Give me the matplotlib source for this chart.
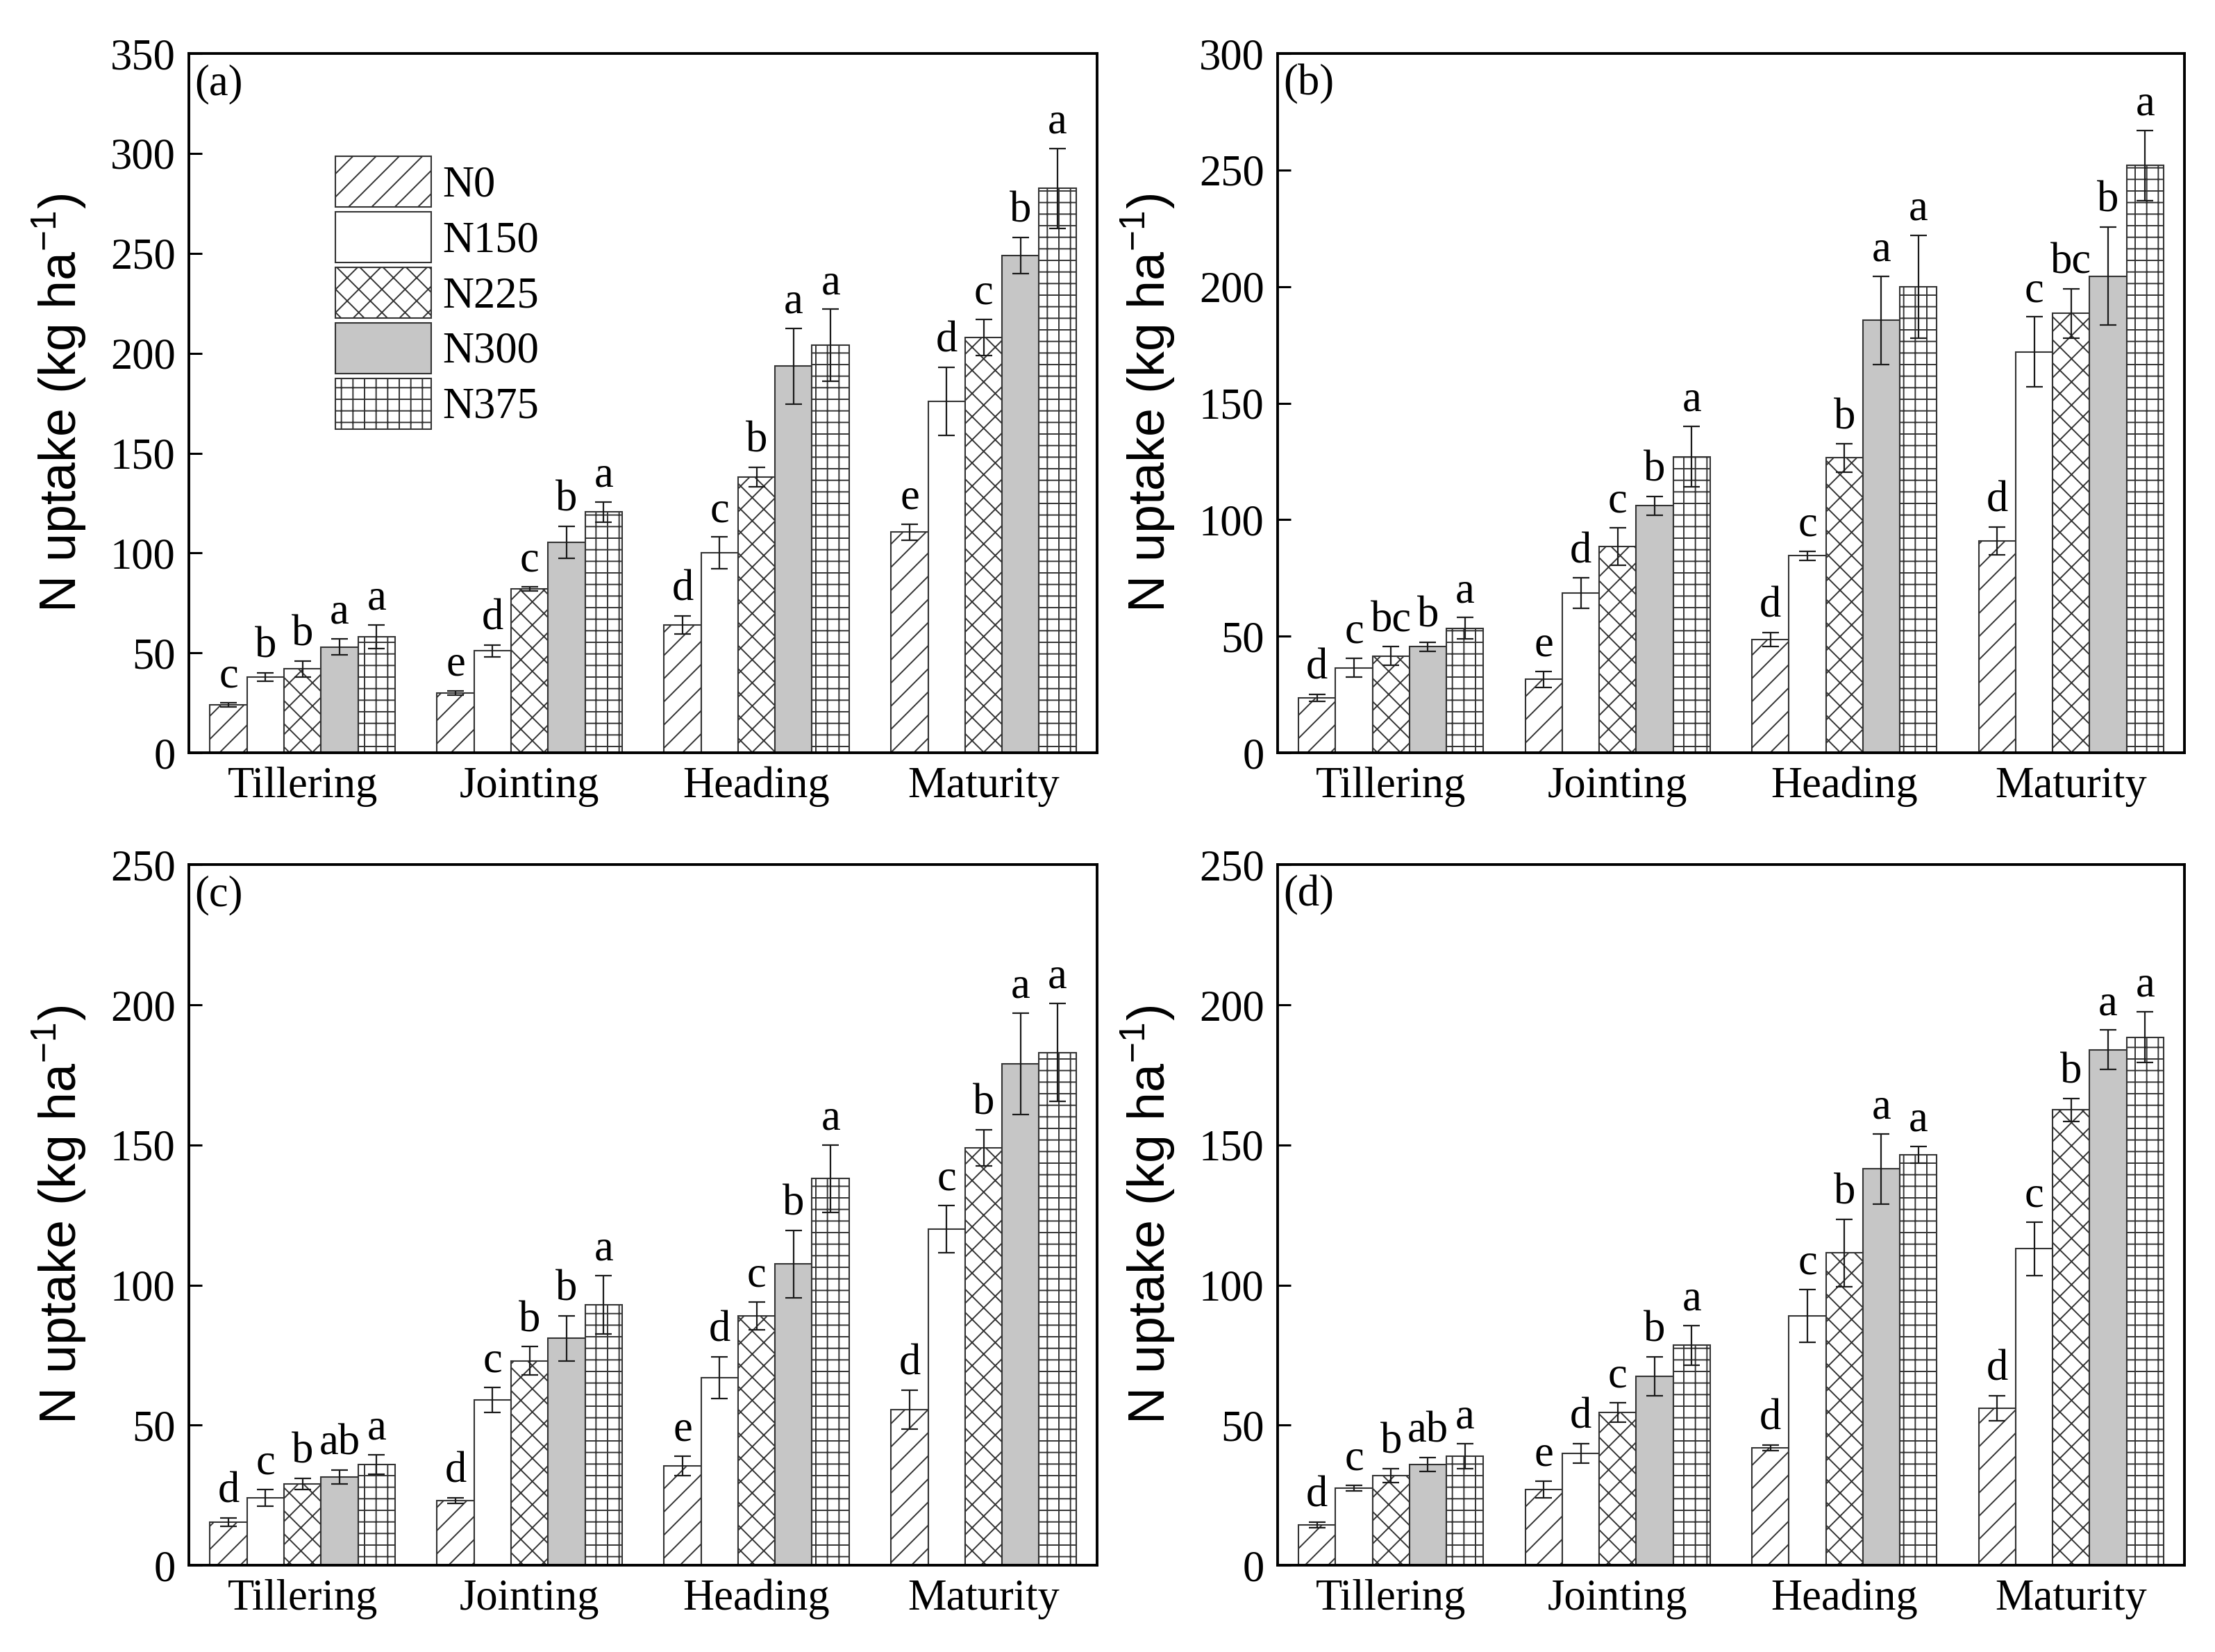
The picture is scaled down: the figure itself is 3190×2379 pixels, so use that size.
import numpy as np
import matplotlib
matplotlib.use('Agg')
import matplotlib.pyplot as plt

plt.rcParams['font.family'] = ['Liberation Serif', 'DejaVu Serif']
plt.rcParams['mathtext.fontset'] = 'custom'
plt.rcParams['mathtext.rm'] = 'Liberation Sans'
plt.rcParams['hatch.linewidth'] = 1.4

stages = ['Tillering', 'Jointing', 'Heading', 'Maturity']
treatments = ['N0', 'N150', 'N225', 'N300', 'N375']

# rows = treatments (N0..N375), columns = stages
a_mean = [[24, 30, 64, 110.5],
          [38, 51, 100, 176],
          [42, 82, 138, 208],
          [53, 105.5, 193.5, 249],
          [58, 120.5, 204, 282.5]]
a_err = [[1, 1, 4.5, 4],
         [2, 3, 8, 17],
         [4, 1, 5, 9],
         [4, 8, 19, 9],
         [6, 5, 18, 20]]
a_letters = [['c', 'e', 'd', 'e'],
             ['b', 'd', 'c', 'd'],
             ['b', 'c', 'b', 'c'],
             ['a', 'b', 'a', 'b'],
             ['a', 'a', 'a', 'a']]

b_mean = [[23.5, 31.5, 48.5, 91],
          [36.5, 68.5, 84.5, 172],
          [41.5, 88.5, 126.5, 188.5],
          [45.5, 106, 185.5, 204.5],
          [53.5, 127, 200, 252]]
b_err = [[1.5, 3.5, 3, 6],
         [4, 6.5, 2, 15],
         [4, 8, 6, 10.5],
         [2, 4, 19, 21],
         [4.5, 13, 22, 15]]
b_letters = [['d', 'e', 'd', 'd'],
             ['c', 'd', 'c', 'c'],
             ['bc', 'c', 'b', 'bc'],
             ['b', 'b', 'a', 'b'],
             ['a', 'a', 'a', 'a']]

c_mean = [[15.5, 23, 35.5, 55.5],
          [24, 59, 67, 120],
          [29, 73, 89, 149],
          [31.5, 81, 107.5, 179],
          [36, 93, 138, 183]]
c_err = [[1.5, 1, 3.5, 7],
         [3, 4.5, 7.5, 8.5],
         [2, 5, 5, 6.5],
         [2.5, 8, 12, 18],
         [3.5, 10.5, 12, 17.5]]
c_letters = [['d', 'd', 'e', 'd'],
             ['c', 'c', 'd', 'c'],
             ['b', 'b', 'c', 'b'],
             ['ab', 'b', 'b', 'a'],
             ['a', 'a', 'a', 'a']]

d_mean = [[14.5, 27, 42, 56],
          [27.5, 40, 89, 113],
          [32, 54.5, 111.5, 162.5],
          [36, 67.5, 141.5, 184],
          [39, 78.5, 146.5, 188.5]]
d_err = [[1, 3, 1, 4.5],
         [1, 3.5, 9.5, 9.5],
         [2.5, 3.5, 12, 4],
         [2.5, 7, 12.5, 7],
         [4.5, 7, 3, 9]]
d_letters = [['d', 'e', 'd', 'd'],
             ['c', 'd', 'c', 'c'],
             ['b', 'c', 'b', 'b'],
             ['ab', 'b', 'a', 'a'],
             ['a', 'a', 'a', 'a']]

panel_names = ['(a)', '(b)', '(c)', '(d)']
y_max = [350, 300, 250, 250]

# bar styles for each treatment
hatches = ['/', '', 'x', '', '+']
fills = ['white', 'white', 'white', '#c6c6c6', 'white']

fig = plt.figure(figsize=(31.9, 23.79), dpi=100)
rects = [[0.0853, 0.5443, 0.4100, 0.4233],
         [0.5768, 0.5443, 0.4094, 0.4233],
         [0.0853, 0.0525, 0.4100, 0.4240],
         [0.5768, 0.0525, 0.4094, 0.4240]]

data = [(a_mean, a_err, a_letters), (b_mean, b_err, b_letters),
        (c_mean, c_err, c_letters), (d_mean, d_err, d_letters)]

x = np.arange(len(stages))
w = 0.163
fs = 45

for k in range(4):
    ax = fig.add_axes(rects[k])
    mean, err, letters = data[k]
    for i in range(len(treatments)):
        pos = x + (i - 2) * w
        ax.bar(pos, mean[i], w, color=fills[i], edgecolor='#333333',
               hatch=hatches[i], linewidth=1.5, label=treatments[i], zorder=2)
        ax.errorbar(pos, mean[i], yerr=err[i], fmt='none', ecolor='#1a1a1a',
                    elinewidth=1.6, capsize=8.5, capthick=1.6, zorder=3)
        for j in range(len(stages)):
            ax.annotate(letters[i][j], (pos[j], mean[i][j] + err[i][j]),
                        xytext=(0, 6), textcoords='offset points',
                        ha='center', va='bottom', fontsize=fs)

    ax.set_xlim(-0.5, 3.5)
    ax.set_ylim(0, y_max[k])
    ax.set_yticks(np.arange(0, y_max[k] + 1, 50))
    ax.set_xticks(x)
    ax.set_xticklabels(stages)
    ax.tick_params(axis='y', direction='in', length=14, width=2.2,
                   labelsize=fs, pad=14)
    ax.tick_params(axis='x', length=0, labelsize=fs, pad=14)
    for s in ax.spines.values():
        s.set_linewidth(2.8)

    ax.set_ylabel('N uptake (kg ha$^{-1}$)', family='Liberation Sans',
                  fontsize=53)
    ax.yaxis.set_label_coords(-0.11, 0.5)
    ax.text(0.006, 0.985, panel_names[k], transform=ax.transAxes,
            ha='left', va='top', fontsize=fs)

    if k == 0:
        ax.legend(loc='upper left', bbox_to_anchor=(0.161, 0.853),
                  frameon=False, fontsize=fs, handlelength=2.22,
                  handleheight=1.42, labelspacing=0.11, handletextpad=0.25,
                  borderpad=0, borderaxespad=0)

fig.savefig('out.png', dpi=100)
